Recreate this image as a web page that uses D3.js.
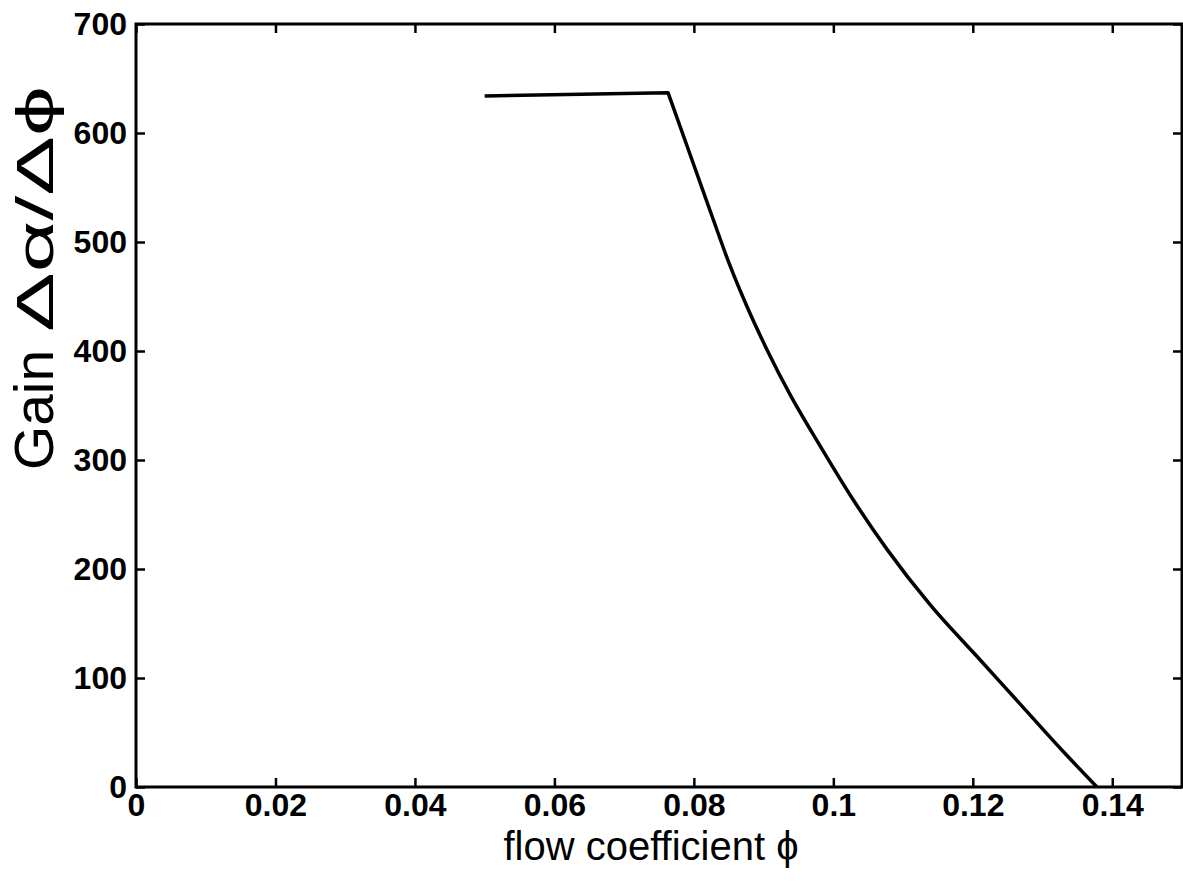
<!DOCTYPE html>
<html>
<head>
<meta charset="utf-8">
<script src="https://cdn.jsdelivr.net/npm/d3@7"></script>
<style>
  body { margin: 0; background: #fff; }
  svg text { font-family: "Liberation Sans", Arial, Helvetica, sans-serif; fill: #000; }
</style>
</head>
<body>
<div id="chart"></div>
<script>
// flow coefficient (x) and gain (y)
var phi  = [0.050, 0.0763, 0.0802, 0.0827, 0.0852, 0.0876, 0.0905, 0.0938, 0.0981, 0.1028, 0.1077, 0.1139, 0.121, 0.1268, 0.1329, 0.1378];
var gain = [634,   637,    567,    522,    478,    441,    401,    360,    313,    264,    218,    167,    117,   76,     33,     0];
var xTicks = [0, 0.02, 0.04, 0.06, 0.08, 0.1, 0.12, 0.14];
var yTicks = [0, 100, 200, 300, 400, 500, 600, 700];

var width = 1183, height = 883;
var plotLeft = 136, plotRight = 1182, plotTop = 24, plotBottom = 787;

var svg = d3.select("#chart")
  .append("svg")
  .attr("width", width)
  .attr("height", height);

var x = d3.scaleLinear().domain([0, 0.15]).range([plotLeft, plotRight]);
var y = d3.scaleLinear().domain([0, 700]).range([plotBottom, plotTop]);

// axes with inward ticks on all four sides
var xAxis = svg.append("g")
  .attr("transform", "translate(0," + plotBottom + ")")
  .call(d3.axisBottom(x).tickValues(xTicks).tickSize(-9).tickPadding(6)
    .tickFormat(function (d) { return String(+d.toFixed(2)); }));
xAxis.selectAll("text").attr("font-size", 32).attr("font-weight", "bold");

svg.append("g")
  .attr("transform", "translate(0," + plotTop + ")")
  .call(d3.axisTop(x).tickValues(xTicks).tickSize(-9).tickFormat(""));

var yAxis = svg.append("g")
  .attr("transform", "translate(" + plotLeft + ",0)")
  .call(d3.axisLeft(y).tickValues(yTicks).tickSize(-9).tickPadding(9));
yAxis.selectAll("text").attr("font-size", 32).attr("font-weight", "bold");

svg.append("g")
  .attr("transform", "translate(" + plotRight + ",0)")
  .call(d3.axisRight(y).tickValues(yTicks).tickSize(-9).tickFormat(""));

svg.selectAll(".domain").remove();
svg.selectAll(".tick line").attr("stroke", "#000").attr("stroke-width", 2.5);

// box
svg.append("rect")
  .attr("x", plotLeft).attr("y", plotTop)
  .attr("width", plotRight - plotLeft).attr("height", plotBottom - plotTop)
  .attr("fill", "none").attr("stroke", "#000").attr("stroke-width", 3);

var pts = phi.map(function (p, i) { return [p, gain[i]]; });

// flat part straight, falling part smooth
var flat = d3.line()
  .x(function (d) { return x(d[0]); })
  .y(function (d) { return y(d[1]); });
var fall = d3.line()
  .x(function (d) { return x(d[0]); })
  .y(function (d) { return y(d[1]); })
  .curve(d3.curveMonotoneX);

svg.append("path")
  .attr("d", flat(pts.slice(0, 2)) + fall(pts.slice(1)).replace(/^M[^LC]*/, ""))
  .attr("fill", "none")
  .attr("stroke", "#000")
  .attr("stroke-width", 3.5)
  .attr("stroke-linejoin", "round");

svg.append("text")
  .attr("x", 651).attr("y", 860)
  .attr("text-anchor", "middle")
  .attr("font-size", 40)
  .text("flow coefficient \u03d5");

// y label: the greek part is drawn wider, like the symbol font of the original
svg.append("text")
  .attr("transform", "translate(53,470) rotate(-90)")
  .attr("font-size", 55)
  .attr("textLength", 120)
  .attr("lengthAdjust", "spacingAndGlyphs")
  .text("Gain");

svg.append("text")
  .attr("transform", "translate(53,332) rotate(-90)")
  .attr("font-size", 52)
  .attr("textLength", 246)
  .attr("lengthAdjust", "spacingAndGlyphs")
  .text("\u0394\u03b1/\u0394\u03d5");
</script>
</body>
</html>
